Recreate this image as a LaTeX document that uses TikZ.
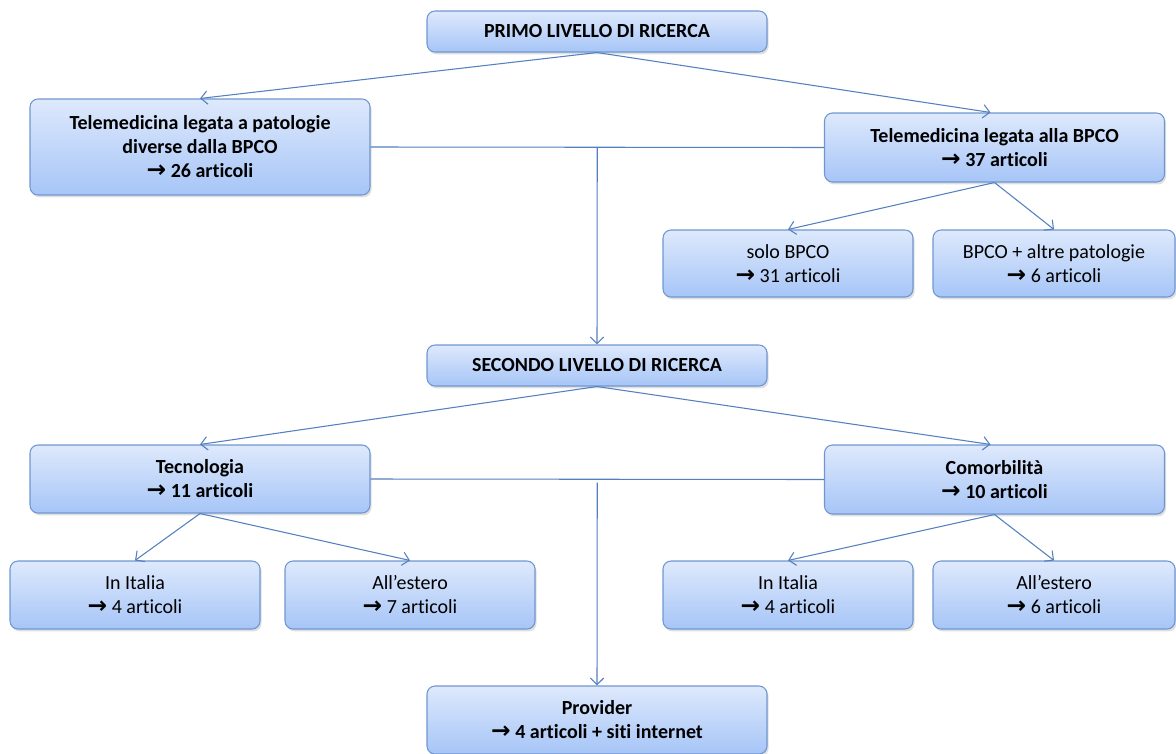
\documentclass[tikz,border=0pt]{standalone}
\usepackage{fontspec}
\setmainfont[Ligatures=NoCommon]{Carlito}
\newfontfamily\arrfont{DejaVu Sans}
\newcommand{\ar}{{\arrfont\bfseries\fontsize{17.5}{18}\selectfont →}}
\usetikzlibrary{calc,shadows,arrows.meta}
\definecolor{boxtop}{RGB}{222,233,252}
\definecolor{boxbot}{RGB}{166,197,247}
\definecolor{boxline}{RGB}{112,150,208}
\definecolor{conn}{RGB}{84,128,192}
\begin{document}
\begin{tikzpicture}[x=0.75pt,y=-0.75pt,
  box/.style={rectangle, rounded corners=6pt, draw=boxline, line width=0.8pt,
    top color=boxtop, bottom color=boxbot, align=center, inner sep=0pt,
    font=\fontsize{15}{18}\selectfont,
    drop shadow={opacity=0.25, shadow xshift=1.2pt, shadow yshift=-1.8pt}},
  bbox/.style={box, font=\fontsize{15}{18}\selectfont\bfseries},
  wide/.style={minimum width=255pt},
  leaf/.style={minimum width=187.5pt},
  conn/.style={draw=conn, line width=0.8pt},
  arr/.style={conn, -{Straight Barb[length=5pt,width=10pt,line width=0.8pt]}}
]
\useasboundingbox (0,0) rectangle (1176,753);

\node[bbox, wide, minimum height=30.75pt] (primo) at (597,31.5) {PRIMO LIVELLO DI RICERCA};
\node[bbox, wide, minimum height=72pt] (tl) at (200,147) {Telemedicina legata a patologie\\diverse dalla BPCO\\\ar{} 26 articoli};
\node[bbox, wide, minimum height=51.75pt] (tr) at (994.5,147.5) {Telemedicina legata alla BPCO\\\ar{} 37 articoli};
\node[box, leaf, minimum height=50.25pt] (solo) at (788,263.5) {solo BPCO\\\ar{} 31 articoli};
\node[box, minimum width=181.5pt, minimum height=50.25pt] (altre) at (1054,263.5) {BPCO + altre patologie\\\ar{} 6 articoli};

\node[bbox, wide, minimum height=30.75pt] (secondo) at (597,365.5) {SECONDO LIVELLO DI RICERCA};
\node[bbox, wide, minimum height=51pt] (tec) at (200,479) {Tecnologia\\\ar{} 11 articoli};
\node[bbox, wide, minimum height=51.75pt] (com) at (994.5,479.5) {Comorbilità\\\ar{} 10 articoli};
\node[box, leaf, minimum height=51pt] (it1) at (135,595) {In Italia\\\ar{} 4 articoli};
\node[box, leaf, minimum height=51pt] (es1) at (410,595) {All’estero\\\ar{} 7 articoli};
\node[box, leaf, minimum height=51pt] (it2) at (788,595) {In Italia\\\ar{} 4 articoli};
\node[box, minimum width=181.5pt, minimum height=51pt] (es2) at (1054,595) {All’estero\\\ar{} 6 articoli};
\node[bbox, wide, minimum height=51pt] (prov) at (597,720) {Provider\\\ar{} 4 articoli + siti internet};

\coordinate (m1) at ($(tl.east)!0.5!(tr.west)$);
\coordinate (m2) at ($(tec.east)!0.5!(com.west)$);

\draw[arr] (primo.south) -- (tl.north);
\draw[arr] (primo.south) -- ([xshift=-3pt]tr.north);
\draw[conn] (tl.east) -- (tr.west);
\draw[arr] (m1) -- (secondo.north);
\draw[arr] (tr.south) -- (solo.north);
\draw[arr] (tr.south) -- (altre.north);

\draw[arr] (secondo.south) -- (tec.north);
\draw[arr] (secondo.south) -- ([xshift=-3pt]com.north);
\draw[conn] (tec.east) -- (com.west);
\draw[arr] ([yshift=-2.5pt]m2) -- (prov.north);
\draw[arr] (tec.south) -- (it1.north);
\draw[arr] (tec.south) -- (es1.north);
\draw[arr] (com.south) -- (it2.north);
\draw[arr] (com.south) -- (es2.north);
\end{tikzpicture}
\end{document}
